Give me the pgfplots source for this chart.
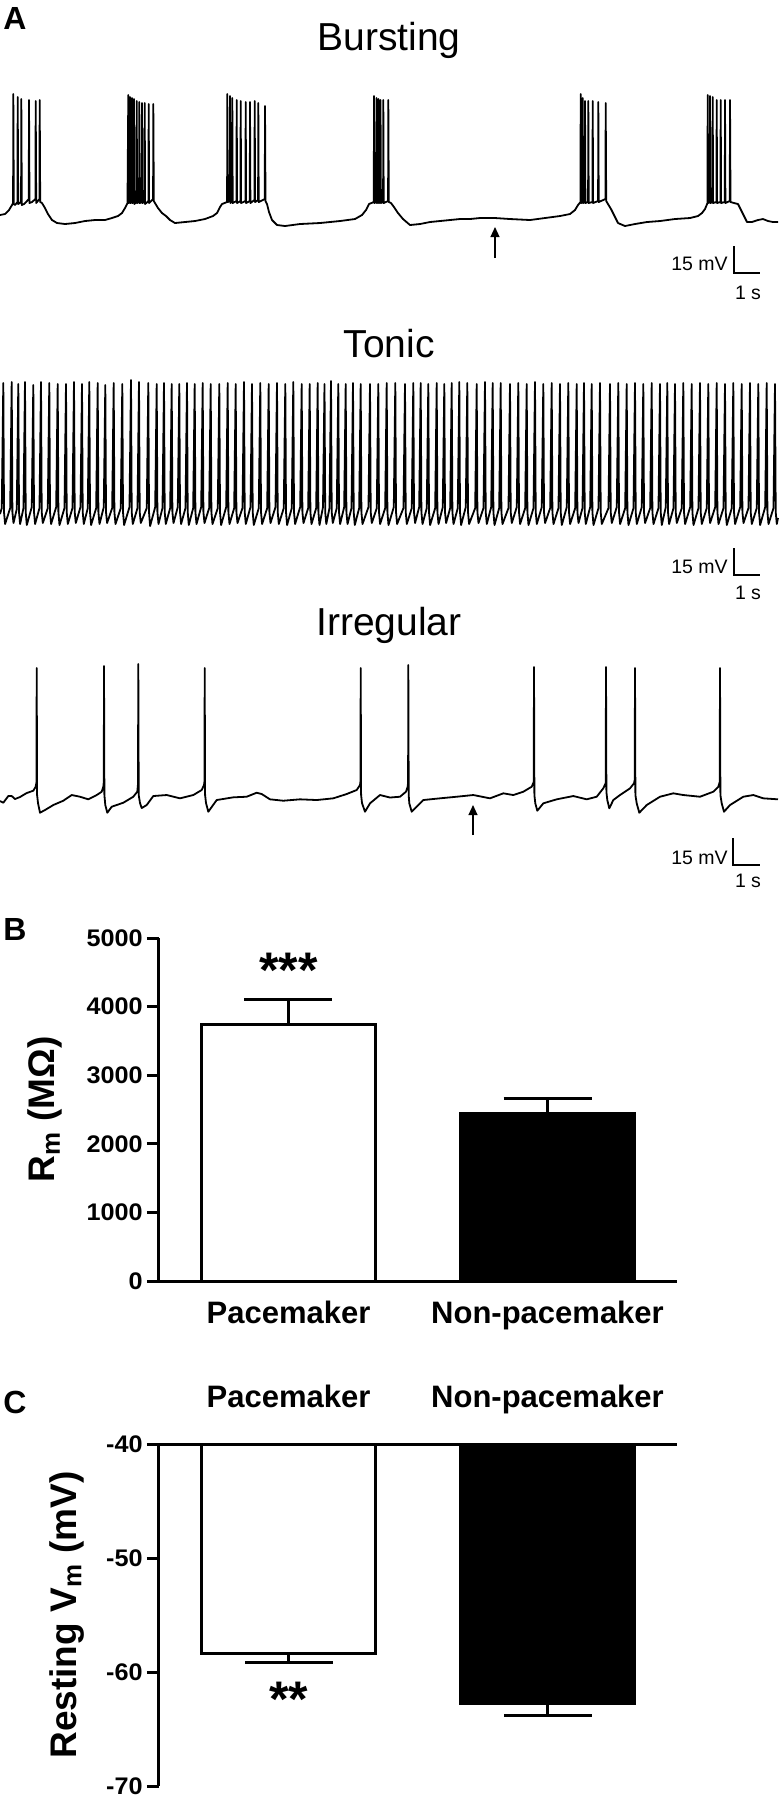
\documentclass[border=0pt]{standalone}
\usepackage{pgfplots}
\pgfplotsset{compat=1.18}
\usepackage{fontspec}
\setmainfont{Liberation Sans}
\newfontfamily\tickfont[FakeStretch=1.05]{Liberation Sans}
\usetikzlibrary{arrows.meta}

% traces are kept in reference pixel units (x to the right, y downwards)
\pgfplotsset{
  trace/.style={black, line width=0.9pt, line join=round, mark=none},
  barpanel/.style={
    width=259pt, scale only axis,
    xmin=-0.5, xmax=1.5,
    axis line style={line width=1.5pt},
    ybar, bar width=0.67,
    tick align=outside, major tick length=6pt,
    ytick style={line width=1.5pt, black},
    xtick={0,1}, xticklabels={Pacemaker,Non-pacemaker},
    xtick style={draw=none},
    yticklabel style={font=\fontsize{12}{14}\tickfont\bfseries, inner sep=2pt},
    xticklabel style={font=\fontsize{15.5}{17}\selectfont\bfseries, inner sep=0pt, text depth=0pt},
    /pgf/number format/1000 sep={},
    /pgf/number format/assume math mode=true,
    error bars/y explicit,
    error bars/error bar style={line width=1.5pt, black},
    error bars/error mark options={rotate=90, line width=1.5pt, mark size=22pt, black},
  },
}

\begin{document}
\begin{tikzpicture}

\begin{axis}[
  at={(0pt,0pt)}, anchor=north west,
  x=0.5pt, y=0.5pt, y dir=reverse,
  xmin=0, xmax=778, ymin=0, ymax=1800,
  axis lines=none, clip=false,
]
% Bursting
\addplot[trace] coordinates {
(0,215)(5,214)(9,210)(12,205)(13.1,203)(13.3,94)(13.8,204)(15,205)(17.5,202)(17.7,97)(18.2,204)(21.1,202)(21.3,99)(21.8,205)(24,204)(27,201)(28.8,199)(29,100)(29.5,203)(32,202)(35.5,199)(35.7,101)(36.2,203)(39.5,199)(39.7,100)(40.2,202)(42,203)(45,208)(48,214)(52,220)(57,223)(65,224)(75,223)(85,221)(95,220)(105,220)(112,218)(118,216)(122,213)(125,208)(127.5,203)
(128.3,95)(128.7,203)(129.8,202)(130,97)(130.4,203)(131.8,202)(132,98)(132.4,203)(133.8,202)(134,99)(134.4,204)(136.5,202)(136.7,101)(137.1,203)(139.1,202)(139.3,102)(139.7,203)(141.8,202)(142,103)(142.4,203)(144.5,202)(144.7,103)(145.1,204)(148.5,201)(148.7,104)(149.1,203)(153.1,199)(153.3,104)(153.8,201)(155,203)(158,208)(162,213)(166,216)(170,220)(175,223)(185,222)(195,221)(205,219)(213,216)(217,213)(220,207)(222,204)(227.1,202)
(227.3,94)(227.7,202)(229.8,201)(230,96)(230.4,203)(232.1,201)(232.3,98)(232.7,203)(236.5,201)(236.7,100)(237.1,203)(240.5,201)(240.7,101)(241.1,203)(245.5,201)(245.7,102)(246.1,203)(249.8,201)(250,102)(250.4,203)(254.5,200)(254.7,101)(255.1,202)(258.1,200)(258.3,103)(258.7,202)(264.8,199)(265,106)(265.5,201)(267,204)(269,212)(272,220)(277,225)(285,226)(300,224)(320,223)(340,221)(355,219)(362,215)(366,210)(369,204)(373.8,202)
(374,96)(374.4,203)(376.3,202)(376.5,98)(376.9,203)(378.3,202)(378.5,99)(378.9,203)(380.3,202)(380.5,100)(380.9,203)(383.1,202)(383.3,100)(383.7,203)(388.1,201)(388.3,100)(388.8,202)(391,203)(394,207)(398,213)(403,219)(410,225)(420,224)(430,222)(440,221)(450,220)(460,219)(470,219)(480,218)(495,218)(510,219)(530,220)(545,218)(560,216)(570,214)(575,210)(578,205)(580.5,202)
(580.7,94)(581.1,203)(582.5,202)(582.7,98)(583.1,203)(584.8,202)(585,101)(585.4,203)(588.1,202)(588.3,101)(588.7,203)(592.5,202)(592.7,101)(593.1,203)(598.1,201)(598.3,102)(598.7,202)(605.5,199)(605.7,103)(606.2,201)(608,204)(611,209)(614,215)(618,223)(625,226)(635,224)(647,222)(660,221)(675,219)(690,218)(698,216)(702,213)(705,209)(707.5,203)
(707.7,95)(708.1,203)(709.8,202)(710,96)(710.4,203)(712.5,202)(712.7,97)(713.1,203)(716.5,202)(716.7,100)(717.1,203)(720.5,202)(720.7,100)(721.1,203)(724.8,202)(725,100)(725.4,203)(729.8,201)(730,100)(730.5,202)(734,203)(738,204)(741,210)(744,216)(747,222)(752,222)(758,220)(763,219)(768,221)(773,222)(778,222)
};
% Tonic
\addplot[trace] coordinates {
(0,514)(1.8,508)(3.3,383)(4.0,512)(5.1,524)(10.2,508)(11.7,382)(12.4,512)(13.5,523)(16.8,509)(18.3,384)(19.0,512)(20.1,524)(23.5,508)(25,382)(25.7,512)(26.8,525)
(31.8,507)(33.3,385)(34.0,512)(35.1,524)(39.5,508)(41,382)(41.7,512)(42.8,523)(47.8,508)(49.3,383)(50.0,512)(51.1,524)(56.2,507)(57.7,384)(58.4,512)(59.5,525)
(64.5,508)(66,384)(66.7,512)(67.8,524)(72.5,508)(74,382)(74.7,512)(75.8,523)(80.5,507)(82,384)(82.7,512)(83.8,524)(87.8,508)(89.3,382)(90.0,512)(91.1,525)
(96.2,508)(97.7,383)(98.4,512)(99.5,524)(103.8,507)(105.3,385)(106.0,512)(107.1,523)(112.2,508)(113.7,383)(114.4,512)(115.5,524)(120.8,508)(122.3,384)(123.0,512)(124.1,525)
(129.5,507)(131,380)(131.7,512)(132.8,524)(137.5,508)(139,382)(139.7,512)(140.8,523)(146.8,508)(148.3,383)(149.0,512)(150.1,526)(155.2,507)(156.7,384)(157.4,512)(158.5,524)
(162.5,508)(164,383)(164.7,512)(165.8,524)(170.2,508)(171.7,384)(172.4,512)(173.5,523)(177.8,507)(179.3,384)(180.0,512)(181.1,524)(185.5,508)(187,383)(187.7,512)(188.8,525)
(193.2,508)(194.7,384)(195.4,512)(196.5,524)(201.2,507)(202.7,383)(203.4,512)(204.5,523)(209.2,508)(210.7,384)(211.4,512)(212.5,524)(217.8,508)(219.3,384)(220.0,512)(221.1,525)
(226.2,507)(227.7,383)(228.4,512)(229.5,524)(234.2,508)(235.7,384)(236.4,512)(237.5,523)(242.5,508)(244,382)(244.7,512)(245.8,524)(250.5,507)(252,384)(252.7,512)(253.8,525)
(258.8,508)(260.3,383)(261.0,512)(262.1,524)(267.2,508)(268.7,384)(269.4,512)(270.5,523)(275.5,507)(277,383)(277.7,512)(278.8,524)(283.8,508)(285.3,384)(286.0,512)(287.1,525)
(291.8,508)(293.3,382)(294.0,512)(295.1,524)(300.2,507)(301.7,384)(302.4,512)(303.5,523)(308.2,508)(309.7,384)(310.4,512)(311.5,524)(316.2,508)(317.7,383)(318.4,512)(319.5,525)
(323.0,507)(324.5,384)(325.2,512)(326.3,524)(329.5,508)(331,381)(331.7,512)(332.8,523)(336.8,508)(338.3,384)(339.0,512)(340.1,524)(344.2,507)(345.7,384)(346.4,512)(347.5,524)
(351.5,508)(353,383)(353.7,512)(354.8,525)(359.2,508)(360.7,384)(361.4,512)(362.5,524)(368.5,507)(370,384)(370.7,512)(371.8,523)(376.8,508)(378.3,384)(379.0,512)(380.1,524)
(385.2,508)(386.7,383)(387.4,512)(388.5,525)(393.8,507)(395.3,383)(396.0,512)(397.1,524)(403.5,508)(405,384)(405.7,512)(406.8,524)(411.8,508)(413.3,383)(414.0,512)(415.1,523)
(419.2,507)(420.7,383)(421.4,512)(422.5,524)(426.8,508)(428.3,384)(429.0,512)(430.1,525)(435.2,508)(436.7,383)(437.4,512)(438.5,524)(442.8,507)(444.3,384)(445.0,512)(446.1,523)
(450.2,508)(451.7,383)(452.4,512)(453.5,524)(457.8,508)(459.3,382)(460.0,512)(461.1,525)(465.8,507)(467.3,383)(468.0,512)(469.1,524)(475.2,508)(476.7,384)(477.4,512)(478.5,523)
(483.5,508)(485,382)(485.7,512)(486.8,524)(491.2,507)(492.7,383)(493.4,512)(494.5,525)(499.2,508)(500.7,383)(501.4,512)(502.5,524)(508.5,508)(510,384)(510.7,512)(511.8,523)
(516.8,507)(518.3,383)(519.0,512)(520.1,524)(525.2,508)(526.7,384)(527.4,512)(528.5,525)(533.5,508)(535,382)(535.7,512)(536.8,524)(541.8,507)(543.3,384)(544.0,512)(545.1,523)
(550.2,508)(551.7,383)(552.4,512)(553.5,524)(558.5,508)(560,384)(560.7,512)(561.8,525)(566.8,507)(568.3,383)(569.0,512)(570.1,524)(575.2,508)(576.7,384)(577.4,512)(578.5,523)
(582.5,508)(584,383)(584.7,512)(585.8,524)(590.2,507)(591.7,384)(592.4,512)(593.5,525)(598.5,508)(600,383)(600.7,512)(601.8,524)(608.5,508)(610,384)(610.7,512)(611.8,523)
(616.8,507)(618.3,383)(619.0,512)(620.1,524)(625.2,508)(626.7,384)(627.4,512)(628.5,525)(633.5,508)(635,383)(635.7,512)(636.8,524)(641.8,507)(643.3,384)(644.0,512)(645.1,523)
(650.2,508)(651.7,383)(652.4,512)(653.5,524)(658.5,508)(660,384)(660.7,512)(661.8,525)(665.8,507)(667.3,383)(668.0,512)(669.1,524)(673.5,508)(675,384)(675.7,512)(676.8,523)
(681.8,508)(683.3,383)(684.0,512)(685.1,524)(690.2,507)(691.7,384)(692.4,512)(693.5,525)(698.5,508)(700,383)(700.7,512)(701.8,524)(706.8,508)(708.3,384)(709.0,512)(710.1,523)
(715.2,507)(716.7,383)(717.4,512)(718.5,524)(723.5,508)(725,384)(725.7,512)(726.8,525)(731.8,508)(733.3,383)(734.0,512)(735.1,524)(740.2,507)(741.7,384)(742.4,512)(743.5,523)
(748.5,508)(750,383)(750.7,512)(751.8,524)(756.8,508)(758.3,384)(759.0,512)(760.1,525)(765.2,507)(766.7,383)(767.4,512)(768.5,524)(773.5,508)(775,384)(775.7,512)(776.8,524)(778,518)
};
% Irregular
\addplot[trace] coordinates {
(0,801)(3.3,802.7)(8.3,796)(11.7,796)(15,799)(20,797)(26.7,793)(33.3,790.7)(35.7,786.7)(36.5,782)(36.7,668)(37.1,795)(38,803)(40,812.7)(45,810)(53.3,805)(63.3,800.7)(71.7,795)(80,796.7)(88.3,799.3)(96.7,795)(101.7,791.7)(103.3,786.7)(103.8,782)(104,666)(104.4,795)(105.3,805)(107.3,812.7)(111.7,806.7)(123.3,802.7)(133.3,796.7)(137.3,791.7)(138,784)(138.3,664)(138.7,795)(140,803)(141.7,808)(146.7,805)(153.3,796)(166.7,795)(180,798.3)(193.3,795)(201.7,790)(204,785)(204.5,781)(204.7,668)(205.1,795)(206,803)(208.3,811.7)(216.7,800)(233.3,797.3)(246.7,796.7)(256.7,792.7)(261.7,794)(270,799.3)(283.3,800.7)(300,799.3)(316.7,800)(333.3,798.3)(346.7,794)(356.7,790)(360,785)(360.5,781)(360.7,668)(361.1,795)(362,803)(365,811.7)(370,803.3)(380,795)(390,797.5)(400,796.7)(406,791.7)(407.7,786.7)(408.1,782)(408.3,665)(408.7,795)(409.3,803.3)(411.7,811.7)(416.7,806.7)(423.3,800)(440,798.3)(456.7,796.7)(473.3,795)(490,798.3)(503.3,793.3)(513.3,795)(523.3,791.7)(531.7,786.7)(533.7,782)(534,667)(534.4,795)(535.3,803.3)(537.3,810.7)(543.3,803.3)(556.7,799.3)(573.3,796)(586.7,799.3)(596.7,796.7)(603.3,788.3)(605.7,783)(606,667)(606.4,792)(607.3,800)(609.3,808.3)(613.3,800)(620,795)(630,788.3)(634,783.3)(634.7,780)(635,668)(635.4,795)(636.7,803.3)(639.3,812.7)(646.7,805)(660,796.7)(673.3,793.3)(683.3,795)(700,796.7)(713.3,791.7)(718.3,786.7)(719.7,782)(720,668)(720.4,795)(721.7,803.3)(724,811.7)(730,805)(743.3,796.7)(753.3,795)(763.3,798.3)(778,799.3)
};

% titles and panel letters
\node[anchor=base, font=\fontsize{19.5}{22}\selectfont] at (axis cs:389,50) {Bursting};
\node[anchor=base, font=\fontsize{19.5}{22}\selectfont] at (axis cs:389,357) {Tonic};
\node[anchor=base, font=\fontsize{19.5}{22}\selectfont] at (axis cs:389,635) {Irregular};
\node[anchor=base west, inner sep=0pt, font=\fontsize{16}{18}\selectfont\bfseries] at (axis cs:3,29) {A};
\node[anchor=base west, inner sep=0pt, font=\fontsize{16}{18}\selectfont\bfseries] at (axis cs:3,940) {B};
\node[anchor=base west, inner sep=0pt, font=\fontsize{16}{18}\selectfont\bfseries] at (axis cs:3,1413) {C};

% arrows
\draw[line width=0.6pt, -{Triangle[length=5pt, width=4.5pt]}] (axis cs:495,258) -- (axis cs:495,227);
\draw[line width=0.6pt, -{Triangle[length=5pt, width=4.5pt]}] (axis cs:473,835) -- (axis cs:473,805);

% scale bars
\draw[line width=0.75pt] (axis cs:734,246) -- (axis cs:734,273) -- (axis cs:760,273);
\node[anchor=base east, inner sep=0pt, font=\fontsize{9.75}{11}\selectfont] at (axis cs:728,270) {15 mV};
\node[anchor=base, inner sep=0pt, font=\fontsize{9.75}{11}\selectfont] at (axis cs:748,299) {1 s};
\draw[line width=0.75pt] (axis cs:734,548) -- (axis cs:734,575) -- (axis cs:760,575);
\node[anchor=base east, inner sep=0pt, font=\fontsize{9.75}{11}\selectfont] at (axis cs:728,573) {15 mV};
\node[anchor=base, inner sep=0pt, font=\fontsize{9.75}{11}\selectfont] at (axis cs:748,599) {1 s};
\draw[line width=0.75pt] (axis cs:733,838) -- (axis cs:733,865) -- (axis cs:760,865);
\node[anchor=base east, inner sep=0pt, font=\fontsize{9.75}{11}\selectfont] at (axis cs:728,864) {15 mV};
\node[anchor=base, inner sep=0pt, font=\fontsize{9.75}{11}\selectfont] at (axis cs:748,887) {1 s};
\end{axis}

% B: membrane resistance
\begin{axis}[
  barpanel,
  at={(79.5pt,-640.5pt)}, anchor=south west,
  height=171.5pt,
  ymin=0, ymax=5000,
  ytick={0,1000,2000,3000,4000,5000},
  axis lines*=left,
  xticklabel style={anchor=north, text height=11.6pt},
  xticklabel shift=3.5pt,
  ylabel={R\textsubscript{m} (MΩ)},
  ylabel style={font=\fontsize{18.5}{20}\selectfont\bfseries, at={(axis description cs:-0.22,0.5)}, anchor=center},
  error bars/y dir=plus,
]
\addplot[draw=black, fill=white, line width=1.5pt, bar shift=0pt] coordinates {(0,3740) +- (0,370)};
\addplot[draw=black, fill=black, line width=1.5pt, bar shift=0pt] coordinates {(1,2440) +- (0,220)};
\node[font=\fontsize{25}{28}\selectfont\bfseries] at (axis cs:0,4530) {***};
\end{axis}

% C: resting membrane potential
\begin{axis}[
  barpanel,
  at={(79.5pt,-722pt)}, anchor=north west,
  height=171pt,
  ymin=-70, ymax=-40,
  ytick={-70,-60,-50,-40},
  axis x line*=top, axis y line*=left,
  xticklabel style={anchor=south},
  xticklabel shift=12pt,
  ylabel={Resting V\textsubscript{m} (mV)},
  ylabel style={font=\fontsize{18.5}{20}\selectfont\bfseries, at={(axis description cs:-0.178,0.5)}, anchor=center},
  error bars/y dir=minus,
]
\addplot[draw=black, fill=white, line width=1.5pt, bar shift=0pt] coordinates {(0,-58.4) +- (0,0.75)};
\addplot[draw=black, fill=black, line width=1.5pt, bar shift=0pt] coordinates {(1,-62.75) +- (0,1.05)};
\node[font=\fontsize{25}{28}\selectfont\bfseries] at (axis cs:0,-62.4) {**};
\end{axis}

\pgfresetboundingbox
\useasboundingbox (0pt,0pt) rectangle (389pt,-900pt);
\end{tikzpicture}
\end{document}
